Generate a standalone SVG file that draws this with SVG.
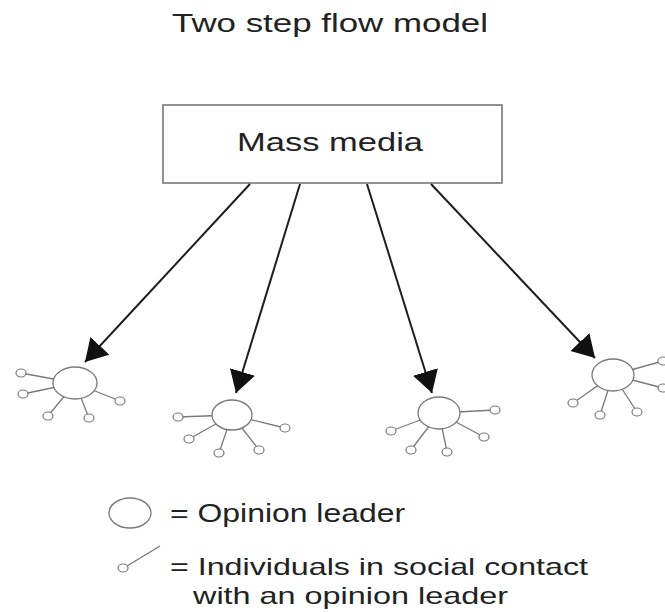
<svg xmlns="http://www.w3.org/2000/svg" width="665" height="612" viewBox="0 0 665 612">
<style>
text{font-family:"Liberation Sans",Arial,sans-serif;fill:#222;}
.box{fill:#fff;stroke:#777;stroke-width:1.6;}
.leader{fill:#fff;stroke:#7a7a7a;stroke-width:1.3;}
.ind{fill:#fff;stroke:#7a7a7a;stroke-width:1.2;}
.spoke{stroke:#7a7a7a;stroke-width:1.3;}
.arrow{stroke:#1e1e1e;stroke-width:2;fill:none;marker-end:url(#ah);}
</style>
<defs>
<marker id="ah" markerUnits="userSpaceOnUse" markerWidth="24" markerHeight="28" refX="22" refY="13" orient="auto" viewBox="0 0 24 28">
<path d="M0,0 L22,13 L0,26 z" fill="#111"/>
</marker>
</defs>
<rect width="665" height="612" fill="#fff"/>
<g id="title"><text x="172" y="32" font-size="26" textLength="316" lengthAdjust="spacingAndGlyphs">Two step flow model</text></g>
<g id="mass-media">
<rect class="box" x="163" y="105" width="339" height="78"/>
<text x="237" y="151" font-size="25" textLength="186" lengthAdjust="spacingAndGlyphs">Mass media</text>
</g>
<g id="connectors">
<line class="arrow" x1="250" y1="184" x2="85" y2="362"/>
<line class="arrow" x1="300" y1="184" x2="236" y2="393"/>
<line class="arrow" x1="367" y1="184" x2="432" y2="393"/>
<line class="arrow" x1="431" y1="184" x2="595" y2="358"/>
</g>
<g id="cluster1">
<line class="spoke" x1="21" y1="373" x2="75" y2="383"/>
<line class="spoke" x1="23" y1="394" x2="75" y2="383"/>
<line class="spoke" x1="48" y1="416" x2="75" y2="383"/>
<line class="spoke" x1="89" y1="418" x2="75" y2="383"/>
<line class="spoke" x1="120" y1="401" x2="75" y2="383"/>
<ellipse class="leader" cx="75" cy="383" rx="22" ry="16"/>
<ellipse class="ind" cx="21" cy="373" rx="5" ry="4"/>
<ellipse class="ind" cx="23" cy="394" rx="5" ry="4"/>
<ellipse class="ind" cx="48" cy="416" rx="5" ry="4"/>
<ellipse class="ind" cx="89" cy="418" rx="5" ry="4"/>
<ellipse class="ind" cx="120" cy="401" rx="5" ry="4"/>
</g>
<g id="cluster2">
<line class="spoke" x1="178" y1="417" x2="232" y2="415"/>
<line class="spoke" x1="189" y1="439" x2="232" y2="415"/>
<line class="spoke" x1="219" y1="453" x2="232" y2="415"/>
<line class="spoke" x1="259" y1="450" x2="232" y2="415"/>
<line class="spoke" x1="285" y1="428" x2="232" y2="415"/>
<ellipse class="leader" cx="232" cy="415" rx="20" ry="15"/>
<ellipse class="ind" cx="178" cy="417" rx="5" ry="4"/>
<ellipse class="ind" cx="189" cy="439" rx="5" ry="4"/>
<ellipse class="ind" cx="219" cy="453" rx="5" ry="4"/>
<ellipse class="ind" cx="259" cy="450" rx="5" ry="4"/>
<ellipse class="ind" cx="285" cy="428" rx="5" ry="4"/>
</g>
<g id="cluster3">
<line class="spoke" x1="495" y1="410" x2="439" y2="413"/>
<line class="spoke" x1="484" y1="437" x2="439" y2="413"/>
<line class="spoke" x1="391" y1="431" x2="439" y2="413"/>
<line class="spoke" x1="411" y1="450" x2="439" y2="413"/>
<line class="spoke" x1="447" y1="452" x2="439" y2="413"/>
<ellipse class="leader" cx="439" cy="413" rx="21" ry="16"/>
<ellipse class="ind" cx="495" cy="410" rx="5" ry="4"/>
<ellipse class="ind" cx="484" cy="437" rx="5" ry="4"/>
<ellipse class="ind" cx="391" cy="431" rx="5" ry="4"/>
<ellipse class="ind" cx="411" cy="450" rx="5" ry="4"/>
<ellipse class="ind" cx="447" cy="452" rx="5" ry="4"/>
</g>
<g id="cluster4">
<line class="spoke" x1="663" y1="361" x2="613" y2="375"/>
<line class="spoke" x1="663" y1="388" x2="613" y2="375"/>
<line class="spoke" x1="573" y1="403" x2="613" y2="375"/>
<line class="spoke" x1="600" y1="415" x2="613" y2="375"/>
<line class="spoke" x1="637" y1="412" x2="613" y2="375"/>
<ellipse class="leader" cx="613" cy="375" rx="21" ry="16"/>
<ellipse class="ind" cx="663" cy="361" rx="5" ry="4"/>
<ellipse class="ind" cx="663" cy="388" rx="5" ry="4"/>
<ellipse class="ind" cx="573" cy="403" rx="5" ry="4"/>
<ellipse class="ind" cx="600" cy="415" rx="5" ry="4"/>
<ellipse class="ind" cx="637" cy="412" rx="5" ry="4"/>
</g>
<g id="legend">
<ellipse class="leader" cx="130" cy="513" rx="21" ry="15"/>
<text x="170" y="522" font-size="25" textLength="235" lengthAdjust="spacingAndGlyphs">= Opinion leader</text>
<line class="spoke" x1="127" y1="566" x2="160" y2="546"/>
<ellipse class="ind" cx="123" cy="568" rx="5" ry="4"/>
<text x="170" y="575" font-size="24" textLength="418" lengthAdjust="spacingAndGlyphs">= Individuals in social contact</text>
<text x="193" y="604" font-size="24" textLength="315" lengthAdjust="spacingAndGlyphs">with an opinion leader</text>
</g>
</svg>
